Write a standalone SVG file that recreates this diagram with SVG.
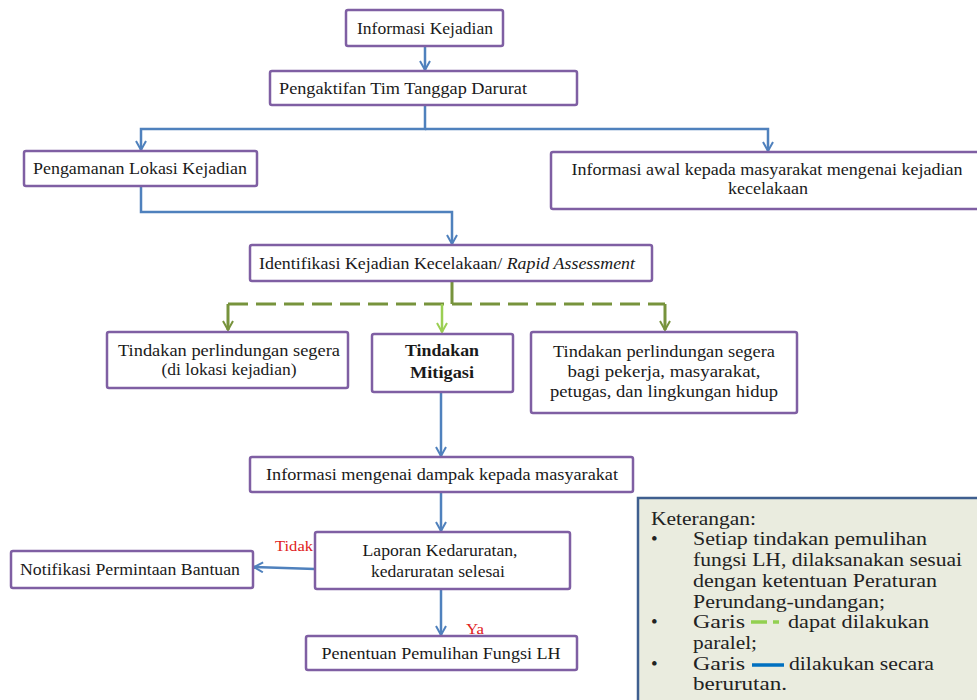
<svg xmlns="http://www.w3.org/2000/svg" width="977" height="700" viewBox="0 0 977 700">
<defs>
<style>
.box{fill:#fff;stroke:#7f5fa3;stroke-width:2.5}
.t{font-family:"Liberation Serif",serif;font-size:17.5px;fill:#1a1a1a;text-anchor:middle}
.b{font-weight:bold}
.blue{fill:none;stroke:#4f81bd;stroke-width:2.5}
.green{fill:none;stroke:#77933c;stroke-width:3}
.dash{fill:none;stroke:#77933c;stroke-width:3;stroke-dasharray:20 8}
.red{font-family:"Liberation Serif",serif;font-size:15px;fill:#e02020}
.lg{font-family:"Liberation Serif",serif;font-size:19px;fill:#222}
</style>
<marker id="ab" viewBox="0 0 12 12" refX="10" refY="6" markerWidth="12" markerHeight="12" markerUnits="userSpaceOnUse" orient="auto">
<path d="M1,1 L10,6 L1,11" fill="none" stroke="#4f81bd" stroke-width="2"/>
</marker>
<marker id="ag" viewBox="0 0 12 12" refX="10" refY="6" markerWidth="12" markerHeight="12" markerUnits="userSpaceOnUse" orient="auto">
<path d="M1,1 L10,6 L1,11" fill="none" stroke="#77933c" stroke-width="2"/>
</marker>
<marker id="alg" viewBox="0 0 12 12" refX="10" refY="6" markerWidth="12" markerHeight="12" markerUnits="userSpaceOnUse" orient="auto">
<path d="M1,1 L10,6 L1,11" fill="none" stroke="#9bcf53" stroke-width="2"/>
</marker>
</defs>
<rect width="977" height="700" fill="#fff"/>
<g id="connectors">
<line class="blue" x1="425" y1="46" x2="425" y2="70" marker-end="url(#ab)"/>
<polyline class="blue" points="425,105 425,129 141,129 141,150" marker-end="url(#ab)"/>
<polyline class="blue" points="425,129 768,129 768,151" marker-end="url(#ab)"/>
<polyline class="blue" points="141,186 141,212 452,212 452,244" marker-end="url(#ab)"/>
<line class="green" x1="452" y1="281" x2="452" y2="304"/>
<line class="dash" x1="228" y1="304" x2="665" y2="304"/>
<line class="green" x1="228" y1="304" x2="228" y2="330" marker-end="url(#ag)"/>
<line class="green" x1="665" y1="304" x2="665" y2="330" marker-end="url(#ag)"/>
<line x1="442" y1="304" x2="442" y2="332" stroke="#9bcf53" stroke-width="2.5" marker-end="url(#alg)"/>
<line class="blue" x1="441" y1="392" x2="441" y2="456" marker-end="url(#ab)"/>
<line class="blue" x1="441" y1="492" x2="441" y2="531" marker-end="url(#ab)"/>
<line class="blue" x1="315" y1="569" x2="254" y2="567" marker-end="url(#ab)"/>
<line class="blue" x1="441" y1="589" x2="441" y2="635" marker-end="url(#ab)"/>
<text class="red" x="275" y="551" textLength="38" lengthAdjust="spacingAndGlyphs">Tidak</text>
<text class="red" x="466" y="634" textLength="18" lengthAdjust="spacingAndGlyphs">Ya</text>
</g>
<g id="n1"><rect class="box" x="346" y="10" width="157" height="36" rx="2"/><text class="t" x="425" y="34" textLength="136" lengthAdjust="spacingAndGlyphs">Informasi Kejadian</text></g>
<g id="n2"><rect class="box" x="270" y="71" width="307" height="34" rx="2"/><text class="t" x="403" y="94" textLength="248" lengthAdjust="spacingAndGlyphs">Pengaktifan Tim Tanggap Darurat</text></g>
<g id="n3"><rect class="box" x="24" y="151" width="233" height="35" rx="2"/><text class="t" x="140" y="174" textLength="214" lengthAdjust="spacingAndGlyphs">Pengamanan Lokasi Kejadian</text></g>
<g id="n4"><rect class="box" x="551" y="152" width="428" height="57" rx="2"/><text class="t" x="767" y="175" textLength="391" lengthAdjust="spacingAndGlyphs">Informasi awal kepada masyarakat mengenai kejadian</text><text class="t" x="768" y="194" textLength="80" lengthAdjust="spacingAndGlyphs">kecelakaan</text></g>
<g id="n5"><rect class="box" x="250" y="245" width="402" height="36" rx="2"/><text class="t" x="447" y="269" textLength="376" lengthAdjust="spacingAndGlyphs">Identifikasi Kejadian Kecelakaan/ <tspan font-style="italic">Rapid Assessment</tspan></text></g>
<g id="n6"><rect class="box" x="107" y="332" width="241" height="56" rx="2"/><text class="t" x="229" y="356" textLength="222" lengthAdjust="spacingAndGlyphs">Tindakan perlindungan segera</text><text class="t" x="229" y="375" textLength="135" lengthAdjust="spacingAndGlyphs">(di lokasi kejadian)</text></g>
<g id="n7"><rect class="box" x="372" y="334" width="141" height="58" rx="2"/><text class="t b" x="442" y="356" textLength="74" lengthAdjust="spacingAndGlyphs">Tindakan</text><text class="t b" x="442" y="378" textLength="64" lengthAdjust="spacingAndGlyphs">Mitigasi</text></g>
<g id="n8"><rect class="box" x="531" y="332" width="266" height="81" rx="2"/><text class="t" x="664" y="357" textLength="222" lengthAdjust="spacingAndGlyphs">Tindakan perlindungan segera</text><text class="t" x="664" y="377" textLength="193" lengthAdjust="spacingAndGlyphs">bagi pekerja, masyarakat,</text><text class="t" x="664" y="397" textLength="228" lengthAdjust="spacingAndGlyphs">petugas, dan lingkungan hidup</text></g>
<g id="n9"><rect class="box" x="250" y="457" width="383" height="35" rx="2"/><text class="t" x="442" y="480" textLength="352" lengthAdjust="spacingAndGlyphs">Informasi mengenai dampak kepada masyarakat</text></g>
<g id="n10"><rect class="box" x="315" y="532" width="255" height="57" rx="2"/><text class="t" x="440" y="556" textLength="155" lengthAdjust="spacingAndGlyphs">Laporan Kedaruratan,</text><text class="t" x="438" y="577" textLength="134" lengthAdjust="spacingAndGlyphs">kedaruratan selesai</text></g>
<g id="n11"><rect class="box" x="11" y="551" width="242" height="37" rx="2"/><text class="t" x="130" y="575" textLength="220" lengthAdjust="spacingAndGlyphs">Notifikasi Permintaan Bantuan</text></g>
<g id="n12"><rect class="box" x="306" y="636" width="271" height="34" rx="2"/><text class="t" x="441" y="659" textLength="239" lengthAdjust="spacingAndGlyphs">Penentuan Pemulihan Fungsi LH</text></g>
<g id="legend">
<rect x="638" y="498" width="345" height="210" fill="#eaecdf" stroke="#3f5f8f" stroke-width="2.5"/>
<text class="lg" x="651" y="525" textLength="105" lengthAdjust="spacingAndGlyphs">Keterangan:</text>
<text class="lg" x="651" y="545">•</text>
<text class="lg" x="693" y="545" textLength="234" lengthAdjust="spacingAndGlyphs">Setiap tindakan pemulihan</text>
<text class="lg" x="693" y="566" textLength="269" lengthAdjust="spacingAndGlyphs">fungsi LH, dilaksanakan sesuai</text>
<text class="lg" x="693" y="587" textLength="244" lengthAdjust="spacingAndGlyphs">dengan ketentuan Peraturan</text>
<text class="lg" x="693" y="608" textLength="192" lengthAdjust="spacingAndGlyphs">Perundang-undangan;</text>
<text class="lg" x="651" y="628">•</text>
<text class="lg" x="693" y="628" textLength="52" lengthAdjust="spacingAndGlyphs">Garis</text>
<line x1="751" y1="622" x2="767" y2="622" stroke="#92d050" stroke-width="3.5"/>
<line x1="773" y1="622" x2="779" y2="622" stroke="#92d050" stroke-width="3.5"/>
<text class="lg" x="788" y="628" textLength="141" lengthAdjust="spacingAndGlyphs">dapat dilakukan</text>
<text class="lg" x="693" y="649" textLength="64" lengthAdjust="spacingAndGlyphs">paralel;</text>
<text class="lg" x="651" y="670">•</text>
<text class="lg" x="693" y="670" textLength="52" lengthAdjust="spacingAndGlyphs">Garis</text>
<line x1="752" y1="665" x2="784" y2="665" stroke="#0070c0" stroke-width="3.5"/>
<text class="lg" x="789" y="670" textLength="145" lengthAdjust="spacingAndGlyphs">dilakukan secara</text>
<text class="lg" x="693" y="690" textLength="94" lengthAdjust="spacingAndGlyphs">berurutan.</text>
</g>
</svg>
